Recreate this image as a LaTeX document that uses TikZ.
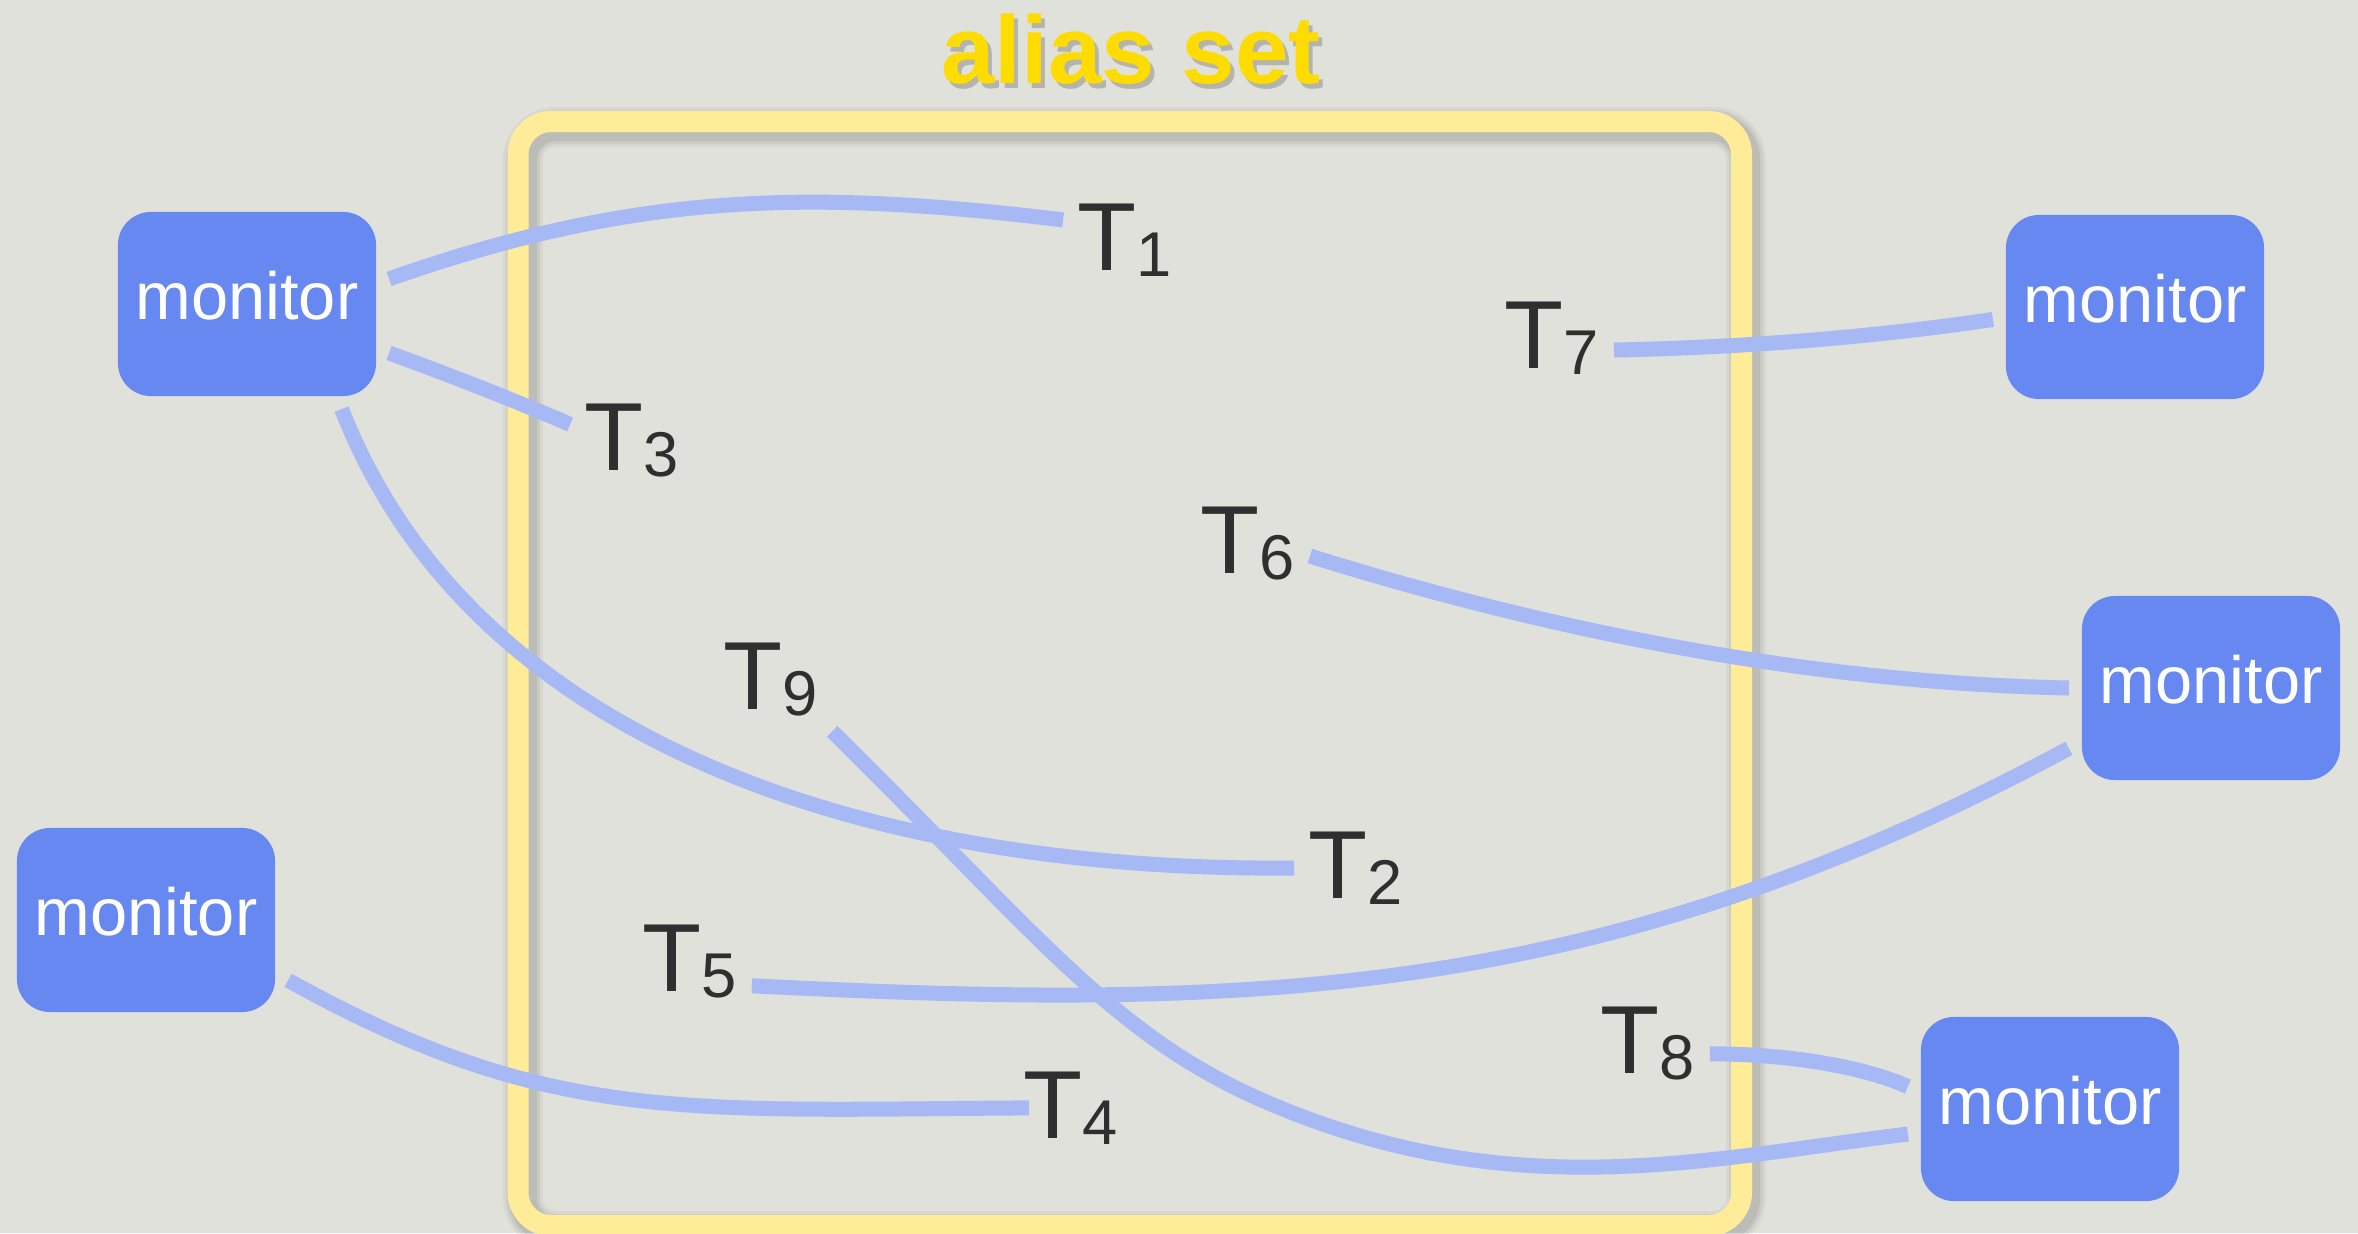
\documentclass[tikz,border=0pt]{standalone}
\usepackage{fontspec}
\setmainfont{Liberation Sans}
\usetikzlibrary{calc}
\definecolor{sbg}{HTML}{E1E1DB}
\definecolor{smon}{HTML}{6688F0}
\definecolor{slink}{HTML}{A6B9F5}
\definecolor{sframe}{HTML}{FFEC99}
\definecolor{stitle}{HTML}{FFDC00}
\definecolor{stext}{HTML}{2F2F2F}
\tikzset{
  monitor/.style={
    fill=smon, text=white, rounded corners=0.33cm,
    minimum width=2.58cm, minimum height=1.84cm, outer sep=0.13cm,
    text height=0.46cm, text depth=0.16cm,
    font=\fontsize{19}{22}\selectfont
  },
  tlab/.style={text=stext, inner sep=4pt, font=\fontsize{27.5}{30}\selectfont},
  link/.style={draw=slink, line width=0.15cm},
  titletext/.style={font=\fontsize{27.3}{30}\selectfont\bfseries, anchor=base},
  frameline/.style={line width=0.21cm, rounded corners=0.33cm}
}
\newcommand{\tsub}[1]{T\raisebox{-1.7pt}{\fontsize{18}{18}\selectfont #1}}

\begin{document}
\begin{tikzpicture}[x=0.01cm, y=-0.01cm]
  \fill[sbg] (0,0) rectangle (2358,1233);
  \useasboundingbox (0,0) rectangle (2358,1233);
  % alias set frame, with a soft shadow
  \foreach \w/\o in {0.40/0.04, 0.34/0.05, 0.28/0.07}
    \draw[frameline, black, opacity=\o, line width=\w cm] (523,127) rectangle (1746,1231);
  \draw[frameline, sframe] (518,121.5) rectangle (1741.5,1225.5);
  \node[titletext, text=black!70, opacity=0.3] (titleshade) at (1135,88) {alias set};
  \node[titletext, text=stitle] (title) at (1131,83) {alias set};

  \node[monitor] (mtl) at (247,304) {monitor};
  \node[monitor] (mtr) at (2135,307) {monitor};
  \node[monitor] (mr) at (2211,688) {monitor};
  \node[monitor] (mbl) at (146,920) {monitor};
  \node[monitor] (mbr) at (2050,1109) {monitor};

  \node[tlab] (t1) at (1125,240) {\tsub{1}};
  \node[tlab] (t7) at (1552,338) {\tsub{7}};
  \node[tlab] (t3) at (632,441) {\tsub{3}};
  \node[tlab] (t6) at (1248,544) {\tsub{6}};
  \node[tlab] (t9) at (771,680) {\tsub{9}};
  \node[tlab] (t2) at (1356,868) {\tsub{2}};
  \node[tlab] (t5) at (690,962) {\tsub{5}};
  \node[tlab] (t8) at (1648,1044) {\tsub{8}};
  \node[tlab] (t4) at (1071,1108) {\tsub{4}};

  \draw[link] (mtl.10) .. controls +(250,-88) and +(-250,-30) .. (t1.162);
  \draw[link] (mtl.-19) .. controls +(60,22) and +(-60,-26) .. (t3.165);
  \draw[link] (mtl.-48) .. controls +(130,333) and +(-427,4) .. (t2.west);
  \draw[link] (t7.-11) .. controls +(150,-3) and +(-100,15) .. (mtr.185);
  \draw[link] (t6.-11) .. controls +(250,78) and +(-250,-5) .. (mr.west);
  \draw[link] (t5.-21) .. controls +(500,25) and +(-471,253) .. (mr.203);
  \draw[link, shorten >=-0.2cm] (mbl.-23) .. controls +(260,144) and +(-327,2) .. (t4.west);
  \draw[link] (t8.-9) .. controls +(70,0) and +(-50,-22) .. (mbr.171);
  \draw[link] (t9.-40) .. controls +(200,197) and +(-150,-66) .. ++(428,368)
    .. controls +(250,110) and +(-200,24) .. (mbr.190);
\end{tikzpicture}
\end{document}
